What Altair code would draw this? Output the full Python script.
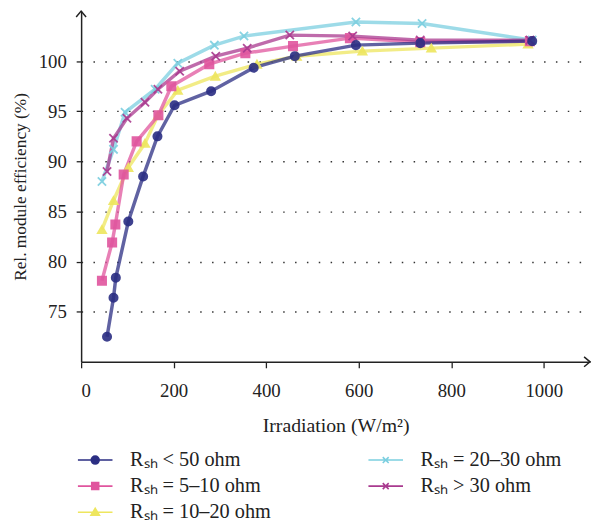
import altair as alt
import pandas as pd

FONT = "Liberation Serif"

# ---- data ----
series_names = ["Rₛₕ < 50 ohm", "Rₛₕ = 5–10 ohm", "Rₛₕ = 10–20 ohm", "Rₛₕ = 20–30 ohm", "Rₛₕ > 30 ohm"]
series_colors = ["#2b2e83", "#e0559e", "#eee65e", "#7ccfe0", "#a93a8f"]
series_shapes = ["circle", "square", "triangle-up", "M-1,-1L1,1M-1,1L1,-1", "M-1,-1L1,1M-1,1L1,-1"]
# legend symbols: a short line with the marker in its middle
legend_shapes = [
    "M-3.5,0L3.5,0M-0.8,0A0.8,0.8 0 1,0 0.8,0A0.8,0.8 0 1,0 -0.8,0Z",
    "M-3.5,0L3.5,0M-0.7,-0.7L0.7,-0.7L0.7,0.7L-0.7,0.7Z",
    "M-3.5,0L3.5,0M-0.85,0.6L0,-0.8L0.85,0.6Z",
    "M-3.5,0L3.5,0M-0.6,-0.6L0.6,0.6M-0.6,0.6L0.6,-0.6",
    "M-3.5,0L3.5,0M-0.6,-0.6L0.6,0.6M-0.6,0.6L0.6,-0.6",
]

x_lt50 = [56, 70, 75, 102, 134, 165, 202, 281, 373, 462, 594, 733, 975]
y_lt50 = [72.5, 76.4, 78.4, 84.0, 88.5, 92.5, 95.6, 97.0, 99.35, 100.5, 101.6, 101.8, 102.0]

x_5_10 = [45, 67, 74, 92, 120, 167, 195, 277, 355, 458, 581, 733, 970]
y_5_10 = [78.1, 81.9, 83.7, 88.7, 92.0, 94.6, 97.5, 99.7, 100.8, 101.5, 102.3, 101.9, 102.0]

x_10_20 = [45, 70, 102, 138, 166, 209, 290, 380, 466, 608, 757, 966]
y_10_20 = [83.2, 86.1, 89.4, 91.8, 94.6, 97.1, 98.5, 99.7, 100.5, 101.0, 101.3, 101.7]

x_20_30 = [45, 70, 95, 160, 209, 288, 352, 594, 737, 975]
y_20_30 = [88.0, 91.2, 94.9, 97.2, 99.8, 101.6, 102.5, 103.9, 103.75, 102.1]

x_gt30 = [56, 70, 99, 138, 166, 213, 291, 359, 451, 587, 733, 970]
y_gt30 = [89.0, 92.3, 94.3, 95.9, 97.2, 99.0, 100.5, 101.3, 102.6, 102.5, 102.1, 102.1]

x_ticks = [0, 200, 400, 600, 800, 1000]
y_ticks = [75, 80, 85, 90, 95, 100]

# ---- build table ----
series_xy = {
    series_names[0]: (x_lt50, y_lt50),
    series_names[1]: (x_5_10, y_5_10),
    series_names[2]: (x_10_20, y_10_20),
    series_names[3]: (x_20_30, y_20_30),
    series_names[4]: (x_gt30, y_gt30),
}
draw_order = [2, 1, 3, 4, 0]
rows = []
for i in draw_order:
    name = series_names[i]
    xs, ys = series_xy[name]
    for xv, yv in zip(xs, ys):
        rows.append({"x": xv, "y": yv, "series": name, "series_leg": name})
df = pd.DataFrame(rows)

xscale = alt.Scale(domain=[0, 1100], nice=False)
yscale = alt.Scale(domain=[70, 105], nice=False, zero=False)
color_scale = alt.Scale(domain=series_names, range=series_colors)

xaxis = alt.Axis(values=x_ticks, format="d", grid=False, tickSize=6, labelPadding=14,
                 titlePadding=15, titleFontSize=20, domainWidth=1.5, domainColor="#222",
                 tickColor="#222", tickWidth=1.3)
yaxis = alt.Axis(values=y_ticks, grid=True, gridDash=[1.5, 10.5], gridColor="#333",
                 gridWidth=1.4, tickSize=5, labelPadding=10, titlePadding=9, titleFontSize=17.5,
                 domainWidth=1.5, domainColor="#222", tickColor="#222", tickWidth=1.3)

legend = alt.Legend(title=None, orient="none", legendX=4, legendY=444, columns=2,
                    symbolSize=100, symbolStrokeWidth=1.6, symbolOpacity=1,
                    labelOffset=25, rowPadding=5.5, columnPadding=95, padding=0,
                    labelFontSize=20.5, labelFont=FONT, labelColor="#222", labelLimit=300)

base = alt.Chart(df)

lines = base.mark_line(strokeWidth=3.5, opacity=0.75).encode(
    x=alt.X("x:Q", scale=xscale, axis=xaxis, title="Irradiation (W/m²)"),
    y=alt.Y("y:Q", scale=yscale, axis=yaxis, title="Rel. module efficiency (%)"),
    color=alt.Color("series:N", scale=color_scale, legend=None),
)

points = base.mark_point(filled=True, size=70, strokeWidth=1.8, opacity=0.9).encode(
    x=alt.X("x:Q", scale=xscale),
    y=alt.Y("y:Q", scale=yscale),
    shape=alt.Shape("series:N", scale=alt.Scale(domain=series_names, range=series_shapes), legend=None),
    fill=alt.Fill("series:N", scale=color_scale, legend=None),
    stroke=alt.Stroke("series:N", scale=color_scale, legend=None),
)

# invisible layer whose only job is the legend (line + marker symbols)
legend_layer = base.mark_point(filled=True, size=100, strokeWidth=1.6, opacity=0).encode(
    x=alt.X("x:Q", scale=xscale),
    y=alt.Y("y:Q", scale=yscale),
    shape=alt.Shape("series_leg:N", scale=alt.Scale(domain=series_names, range=legend_shapes), legend=legend),
    fill=alt.Fill("series_leg:N", scale=color_scale, legend=legend),
    stroke=alt.Stroke("series_leg:N", scale=color_scale, legend=legend),
)

arrow_up = alt.Chart(pd.DataFrame({"a": [0]})).mark_point(
    shape="M-1,1.2L0,0L1,1.2", filled=False, size=100, stroke="#222", strokeWidth=1.5, opacity=1
).encode(x=alt.datum(0, scale=xscale), y=alt.datum(105, scale=yscale))

arrow_right = alt.Chart(pd.DataFrame({"a": [0]})).mark_point(
    shape="M-1.2,-1L0,0L-1.2,1", filled=False, size=100, stroke="#222", strokeWidth=1.5, opacity=1
).encode(x=alt.datum(1100, scale=xscale), y=alt.datum(70, scale=yscale))

chart = alt.layer(lines, points, legend_layer, arrow_up, arrow_right).resolve_scale(
    shape="independent", fill="independent", stroke="independent"
).properties(
    width=515, height=355,
    autosize=alt.AutoSizeParams(type="none"),
    padding={"left": 74, "top": 0, "right": 2, "bottom": 161},
).configure_view(stroke=None).configure_axis(
    labelFont=FONT, titleFont=FONT, labelFontSize=19,
    labelColor="#222", titleColor="#222", titleFontWeight="normal",
)

chart.save("out.html", embed_options={"renderer": "svg", "actions": False})
